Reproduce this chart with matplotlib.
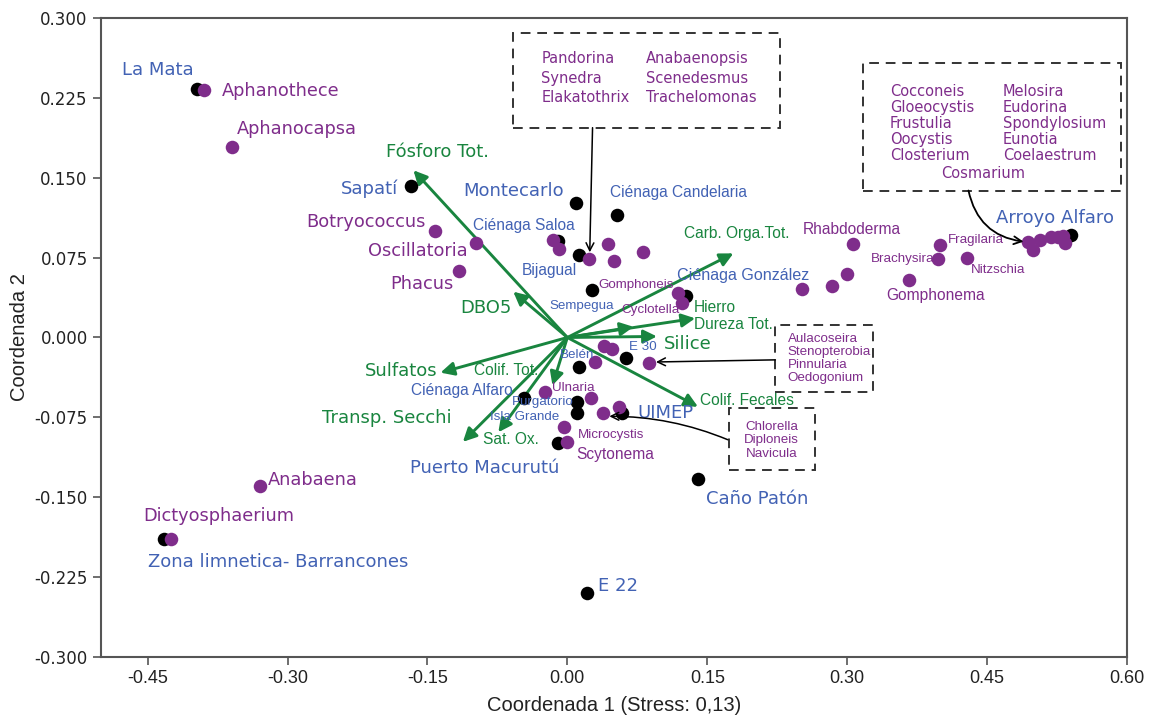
import matplotlib
matplotlib.use("Agg")
import matplotlib.pyplot as plt
from matplotlib.patches import Rectangle
import numpy as np

# colours
BLUE = "#4262b4"
PURPLE = "#7f2d8b"
GREEN = "#19853f"
WIDE = ["DejaVu Sans"]
NARROW = ["Liberation Sans Narrow", "Liberation Sans", "DejaVu Sans"]

# sites (black dots)
site_x = [-0.397, -0.168, 0.009, 0.053, -0.010, 0.012, 0.026, 0.127, 0.063, 0.013,
          -0.047, 0.010, 0.010, 0.059, -0.010, 0.140, 0.021, -0.432, 0.540]
site_y = [0.233, 0.142, 0.126, 0.115, 0.091, 0.077, 0.045, 0.039, -0.019, -0.028,
          -0.057, -0.061, -0.071, -0.071, -0.099, -0.133, -0.240, -0.189, 0.096]

# species (purple dots)
sp_x = [-0.390, -0.359, -0.142, -0.098, -0.116, -0.015, -0.009, 0.023, 0.044, 0.050,
        0.081, 0.119, 0.123, 0.306, 0.300, 0.284, 0.252, 0.366, 0.397, 0.400,
        0.428, 0.494, 0.499, 0.507, 0.518, 0.526, 0.534, 0.531, 0.039, 0.048,
        0.030, 0.087, -0.024, 0.025, 0.038, 0.055, -0.004, 0.000, -0.329, -0.425]
sp_y = [0.232, 0.179, 0.100, 0.089, 0.062, 0.092, 0.083, 0.074, 0.088, 0.072,
        0.080, 0.042, 0.032, 0.088, 0.060, 0.048, 0.046, 0.054, 0.074, 0.087,
        0.075, 0.090, 0.082, 0.092, 0.094, 0.094, 0.089, 0.095, -0.008, -0.011,
        -0.023, -0.024, -0.051, -0.057, -0.071, -0.065, -0.084, -0.098, -0.139, -0.189]

# environmental vectors
env_names = ["Fósforo Tot.", "DBO5", "Sulfatos", "Transp. Secchi", "Sat. Ox.", "Colif. Tot.",
             "Colif. Fecales", "Silice", "Dureza Tot.", "Hierro", "Carb. Orga.Tot."]
env_x = [-0.165, -0.058, -0.136, -0.112, -0.074, -0.016, 0.140, 0.096, 0.071, 0.137, 0.178]
env_y = [0.157, 0.043, -0.033, -0.098, -0.089, -0.045, -0.065, 0.001, 0.010, 0.018, 0.079]

# labels: (text, x, y, colour, family, size, ha)
BIG_N = 11.2
SMALL_N = 9.6
labels = [
    ("La Mata", -0.477, 0.251, BLUE, WIDE, 13, "left"),
    ("Sapatí", -0.181, 0.140, BLUE, WIDE, 13, "right"),
    ("Montecarlo", -0.112, 0.138, BLUE, WIDE, 13, "left"),
    ("Ciénaga Candelaria", 0.046, 0.136, BLUE, NARROW, BIG_N, "left"),
    ("Ciénaga Saloa", -0.101, 0.105, BLUE, NARROW, BIG_N, "left"),
    ("Bijagual", -0.049, 0.063, BLUE, NARROW, BIG_N, "left"),
    ("Ciénaga González", 0.117, 0.058, BLUE, NARROW, BIG_N + 0.4, "left"),
    ("Sempegua", -0.019, 0.030, BLUE, NARROW, SMALL_N, "left"),
    ("E 30", 0.066, -0.009, BLUE, NARROW, SMALL_N, "left"),
    ("Belén", -0.008, -0.016, BLUE, NARROW, SMALL_N, "left"),
    ("Ciénaga Alfaro", -0.168, -0.050, BLUE, NARROW, BIG_N, "left"),
    ("Purgatorio", -0.059, -0.061, BLUE, NARROW, SMALL_N, "left"),
    ("Isla Grande", -0.083, -0.075, BLUE, NARROW, SMALL_N, "left"),
    ("UIMEP", 0.075, -0.071, BLUE, WIDE, 13, "left"),
    ("Puerto Macurutú", -0.169, -0.123, BLUE, WIDE, 13, "left"),
    ("Caño Patón", 0.149, -0.152, BLUE, WIDE, 13, "left"),
    ("E 22", 0.033, -0.233, BLUE, WIDE, 13, "left"),
    ("Zona limnetica- Barrancones", -0.450, -0.211, BLUE, WIDE, 13, "left"),
    ("Arroyo Alfaro", 0.459, 0.112, BLUE, WIDE, 13, "left"),
    ("Aphanothece", -0.370, 0.231, PURPLE, WIDE, 12.8, "left"),
    ("Aphanocapsa", -0.354, 0.196, PURPLE, WIDE, 12.8, "left"),
    ("Botryococcus", -0.280, 0.108, PURPLE, WIDE, 12.8, "left"),
    ("Oscillatoria", -0.214, 0.081, PURPLE, WIDE, 12.8, "left"),
    ("Phacus", -0.190, 0.050, PURPLE, WIDE, 12.8, "left"),
    ("Rhabdoderma", 0.252, 0.101, PURPLE, NARROW, BIG_N, "left"),
    ("Fragilaria", 0.408, 0.092, PURPLE, NARROW, SMALL_N, "left"),
    ("Brachysira", 0.325, 0.074, PURPLE, NARROW, SMALL_N, "left"),
    ("Nitzschia", 0.433, 0.063, PURPLE, NARROW, SMALL_N, "left"),
    ("Gomphonema", 0.342, 0.039, PURPLE, NARROW, BIG_N, "left"),
    ("Gomphoneis", 0.033, 0.049, PURPLE, NARROW, SMALL_N, "left"),
    ("Cyclotella", 0.058, 0.026, PURPLE, NARROW, SMALL_N, "left"),
    ("Ulnaria", -0.016, -0.047, PURPLE, NARROW, SMALL_N, "left"),
    ("Microcystis", 0.011, -0.092, PURPLE, NARROW, SMALL_N, "left"),
    ("Scytonema", 0.010, -0.110, PURPLE, NARROW, BIG_N, "left"),
    ("Anabaena", -0.321, -0.134, PURPLE, WIDE, 12.8, "left"),
    ("Dictyosphaerium", -0.455, -0.168, PURPLE, WIDE, 12.8, "left"),
    ("Fósforo Tot.", -0.194, 0.174, GREEN, WIDE, 13, "left"),
    ("Carb. Orga.Tot.", 0.125, 0.098, GREEN, NARROW, BIG_N, "left"),
    ("DBO5", -0.115, 0.028, GREEN, WIDE, 13, "left"),
    ("Hierro", 0.136, 0.028, GREEN, NARROW, BIG_N, "left"),
    ("Dureza Tot.", 0.136, 0.012, GREEN, NARROW, BIG_N, "left"),
    ("Silice", 0.103, -0.006, GREEN, WIDE, 13, "left"),
    ("Sulfatos", -0.217, -0.031, GREEN, WIDE, 13, "left"),
    ("Colif. Tot.", -0.100, -0.031, GREEN, NARROW, BIG_N, "left"),
    ("Colif. Fecales", 0.142, -0.059, GREEN, NARROW, BIG_N, "left"),
    ("Transp. Secchi", -0.263, -0.076, GREEN, WIDE, 13, "left"),
    ("Sat. Ox.", -0.090, -0.096, GREEN, NARROW, BIG_N, "left"),
]

# grouped species in the dashed boxes
box1_col1 = ["Pandorina", "Synedra", "Elakatothrix"]
box1_col2 = ["Anabaenopsis", "Scenedesmus", "Trachelomonas"]
box2_col1 = ["Cocconeis", "Gloeocystis", "Frustulia", "Oocystis", "Closterium"]
box2_col2 = ["Melosira", "Eudorina", "Spondylosium", "Eunotia", "Coelaestrum"]
box2_last = "Cosmarium"
box3 = ["Aulacoseira", "Stenopterobia", "Pinnularia", "Oedogonium"]
box4 = ["Chlorella", "Diploneis", "Navicula"]

fig = plt.figure(figsize=(11.51, 7.17), dpi=100)
ax = fig.add_axes([0.0877, 0.0837, 0.8915, 0.8912])
ax.set_xlim(-0.5, 0.6)
ax.set_ylim(-0.3, 0.3)

# vectors
for name, ex, ey in zip(env_names, env_x, env_y):
    ax.annotate("", xy=(ex, ey), xytext=(0, 0),
                arrowprops=dict(arrowstyle="-|>", color=GREEN, lw=2.1,
                                mutation_scale=20, shrinkA=0, shrinkB=0),
                zorder=2)

ax.scatter(site_x, site_y, s=95, color="black", zorder=3, linewidths=0)
ax.scatter(sp_x, sp_y, s=95, color=PURPLE, zorder=4, linewidths=0)

for t, x, y, c, fam, fs, ha in labels:
    ax.text(x, y, t, color=c, family=fam, fontsize=fs, ha=ha, va="center", zorder=5)

def dashed_box(x0, y0, x1, y1):
    ax.add_patch(Rectangle((x0, y0), x1 - x0, y1 - y0, fill=False, ec="#333333",
                           lw=1.4, ls=(0, (5, 3.5)), zorder=5))

# box 1
dashed_box(-0.058, 0.197, 0.228, 0.286)
for i, (a, b) in enumerate(zip(box1_col1, box1_col2)):
    yy = 0.262 - i * 0.0185
    ax.text(-0.028, yy, a, color=PURPLE, family=WIDE, fontsize=10.5, va="center")
    ax.text(0.084, yy, b, color=PURPLE, family=WIDE, fontsize=10.5, va="center")
ax.annotate("", xy=(0.024, 0.080), xytext=(0.027, 0.197),
            arrowprops=dict(arrowstyle="->", color="black", lw=1.1, mutation_scale=14,
                            shrinkA=0, shrinkB=0), zorder=6)

# box 2
dashed_box(0.317, 0.138, 0.593, 0.258)
for i, (a, b) in enumerate(zip(box2_col1, box2_col2)):
    yy = 0.231 - i * 0.015
    ax.text(0.346, yy, a, color=PURPLE, family=WIDE, fontsize=10.5, va="center")
    ax.text(0.467, yy, b, color=PURPLE, family=WIDE, fontsize=10.5, va="center")
ax.text(0.446, 0.154, box2_last, color=PURPLE, family=WIDE, fontsize=10.5,
        va="center", ha="center")
ax.annotate("", xy=(0.489, 0.090), xytext=(0.430, 0.138),
            arrowprops=dict(arrowstyle="->", color="black", lw=1.3, mutation_scale=14,
                            shrinkA=0, shrinkB=0, connectionstyle="arc3,rad=0.35"),
            zorder=6)

# box 3
dashed_box(0.223, -0.051, 0.328, 0.012)
for i, t in enumerate(box3):
    ax.text(0.236, -0.001 - i * 0.0123, t, color=PURPLE, family=NARROW,
            fontsize=9.6, va="center")
ax.annotate("", xy=(0.095, -0.023), xytext=(0.223, -0.021),
            arrowprops=dict(arrowstyle="->", color="black", lw=1.1, mutation_scale=14,
                            shrinkA=0, shrinkB=0), zorder=6)

# box 4
dashed_box(0.173, -0.124, 0.266, -0.066)
for i, t in enumerate(box4):
    ax.text(0.219, -0.084 - i * 0.0125, t, color=PURPLE, family=NARROW,
            fontsize=9.6, va="center", ha="center")
ax.annotate("", xy=(0.045, -0.074), xytext=(0.172, -0.096),
            arrowprops=dict(arrowstyle="->", color="black", lw=1.1, mutation_scale=14,
                            shrinkA=0, shrinkB=0, connectionstyle="arc3,rad=0.1"),
            zorder=6)

# axes styling
xt = np.arange(-0.45, 0.61, 0.15)
yt = np.arange(-0.3, 0.301, 0.075)
ax.set_xticks(xt)
ax.set_xticklabels(["%.2f" % v if abs(v) > 1e-9 else "0.00" for v in xt])
ax.set_yticks(yt)
ax.set_yticklabels(["%.3f" % v if abs(v) > 1e-9 else "0.000" for v in yt])
for s in ax.spines.values():
    s.set_color("#555555")
    s.set_linewidth(1.5)
ax.tick_params(direction="out", length=6, width=1.2, color="#555555",
               labelcolor="#222222", labelsize=12)
for lab in ax.get_xticklabels():
    lab.set_family(NARROW)
    lab.set_fontsize(13)
ax.set_xlabel("Coordenada 1 (Stress: 0,13)", family=NARROW, fontsize=14.5,
              color="#222222", labelpad=6)
ax.set_ylabel("Coordenada 2", family=NARROW, fontsize=14.5, color="#222222", labelpad=4)

fig.savefig("out.png", dpi=100)
